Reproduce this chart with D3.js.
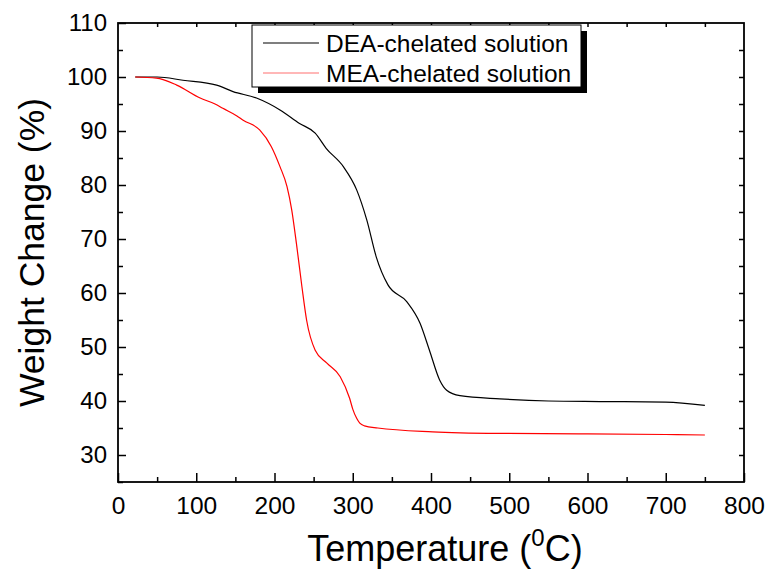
<!DOCTYPE html>
<html>
<head>
<meta charset="utf-8">
<script src="https://cdn.jsdelivr.net/npm/d3@7"></script>
<style>
  body { margin: 0; background: #fff; }
  svg text { font-family: "Liberation Sans", Arial, sans-serif; fill: #000; }
</style>
</head>
<body>
<div id="chart"></div>
<script>
// DEA-chelated solution (black)
const deaTemp = [22, 50, 83, 126, 147, 177, 207, 232, 252, 266, 288, 305, 318, 330, 345, 369, 386, 398, 411, 420, 437, 488, 550, 616, 700, 750];
const deaWeight = [100, 100, 99.4, 98.5, 97.3, 96.1, 93.9, 91.4, 89.6, 86.8, 83.4, 79.1, 73.5, 66.7, 61.5, 58.4, 54.4, 49.4, 43.9, 42.0, 41.0, 40.4, 40.0, 39.9, 39.8, 39.2];

// MEA-chelated solution (red)
const meaTemp = [22, 49, 75, 105, 124, 134, 152, 160, 181, 196, 207, 216, 222, 228, 235, 241, 252, 267, 284, 296, 300, 305, 309, 315, 332, 402, 488, 600, 700, 750];
const meaWeight = [100, 99.8, 98.5, 96.1, 95.0, 94.2, 92.8, 92.0, 90.2, 87.1, 83.4, 79.7, 75.4, 69.2, 61.2, 55.0, 49.4, 47.0, 44.5, 40.5, 38.5, 36.8, 35.9, 35.4, 35.0, 34.3, 34.0, 33.9, 33.8, 33.7];

const xTicks = [0, 100, 200, 300, 400, 500, 600, 700, 800];
const yTicks = [30, 40, 50, 60, 70, 80, 90, 100, 110];
const seriesNames = ["DEA-chelated solution", "MEA-chelated solution"];

const width = 773, height = 571;
const plotLeft = 118, plotRight = 744, plotTop = 23, plotBottom = 482;

const svg = d3.select("#chart").append("svg")
    .attr("width", width)
    .attr("height", height);

const x = d3.scaleLinear().domain([0, 800]).range([plotLeft, plotRight]);
const y = d3.scaleLinear().domain([25, 110]).range([plotBottom, plotTop]);

const xMinor = d3.range(50, 800, 100);
const yMinor = d3.range(25, 110, 10);

// bottom axis, ticks inward
const bx = svg.append("g").attr("transform", `translate(0,${plotBottom})`)
    .call(d3.axisBottom(x).tickValues(xTicks).tickSizeInner(-9).tickSizeOuter(0).tickPadding(15));
bx.selectAll("text").style("font-size", "24.5px");
svg.append("g").attr("transform", `translate(0,${plotBottom})`)
    .call(d3.axisBottom(x).tickValues(xMinor).tickSizeInner(-5).tickSizeOuter(0).tickFormat(""));

// left axis
const ly = svg.append("g").attr("transform", `translate(${plotLeft},0)`)
    .call(d3.axisLeft(y).tickValues(yTicks).tickSizeInner(-8).tickSizeOuter(0).tickPadding(11));
ly.selectAll("text").style("font-size", "24px");
svg.append("g").attr("transform", `translate(${plotLeft},0)`)
    .call(d3.axisLeft(y).tickValues(yMinor).tickSizeInner(-5).tickSizeOuter(0).tickFormat(""));

// top and right axes
svg.append("g").attr("transform", `translate(0,${plotTop})`)
    .call(d3.axisTop(x).tickValues(d3.range(50, 800, 50)).tickSizeInner(-4).tickSizeOuter(0).tickFormat(""));
svg.append("g").attr("transform", `translate(${plotRight},0)`)
    .call(d3.axisRight(y).tickValues(d3.range(30, 110, 5)).tickSizeInner(-5).tickSizeOuter(0).tickFormat(""));

svg.selectAll(".domain").remove();
svg.selectAll(".tick line").attr("stroke", "#000").attr("stroke-width", 1.5);

// frame
svg.append("rect")
    .attr("x", plotLeft).attr("y", plotTop)
    .attr("width", plotRight - plotLeft).attr("height", plotBottom - plotTop)
    .attr("fill", "none").attr("stroke", "#000").attr("stroke-width", 1.8);

const line = d3.line()
    .x(d => x(d[0]))
    .y(d => y(d[1]))
    .curve(d3.curveMonotoneX);

svg.append("path")
    .datum(deaTemp.map((t, i) => [t, deaWeight[i]]))
    .attr("fill", "none").attr("stroke", "#000").attr("stroke-width", 1.2)
    .attr("d", line);

svg.append("path")
    .datum(meaTemp.map((t, i) => [t, meaWeight[i]]))
    .attr("fill", "none").attr("stroke", "#ff0000").attr("stroke-width", 1.2)
    .attr("d", line);

// legend with drop shadow
const lg = svg.append("g").attr("transform", "translate(252,25)");
lg.append("rect").attr("x", 6).attr("y", 6).attr("width", 329).attr("height", 62).attr("fill", "#000");
lg.append("rect").attr("width", 329).attr("height", 62).attr("fill", "#fff").attr("stroke", "#000").attr("stroke-width", 1);
const legendColors = ["#000", "#ff7070"];
seriesNames.forEach(function (name, i) {
    lg.append("line")
        .attr("x1", 11).attr("x2", 67)
        .attr("y1", 18 + i * 30).attr("y2", 18 + i * 30)
        .attr("stroke", legendColors[i]).attr("stroke-width", 1.2);
    lg.append("text")
        .attr("x", 74).attr("y", 18 + i * 30)
        .attr("dy", "0.36em")
        .style("font-size", "24.5px")
        .text(name);
});

// axis titles
svg.append("text")
    .attr("transform", `translate(44,${(plotTop + plotBottom) / 2}) rotate(-90)`)
    .attr("text-anchor", "middle")
    .style("font-size", "35.5px")
    .text("Weight Change (%)");

const xt = svg.append("text")
    .attr("x", 445)
    .attr("y", 561)
    .attr("text-anchor", "middle")
    .style("font-size", "36px");
xt.append("tspan").text("Temperature (");
xt.append("tspan").attr("dy", -15).style("font-size", "24px").text("0");
xt.append("tspan").attr("dy", 15).text("C)");
</script>
</body>
</html>
